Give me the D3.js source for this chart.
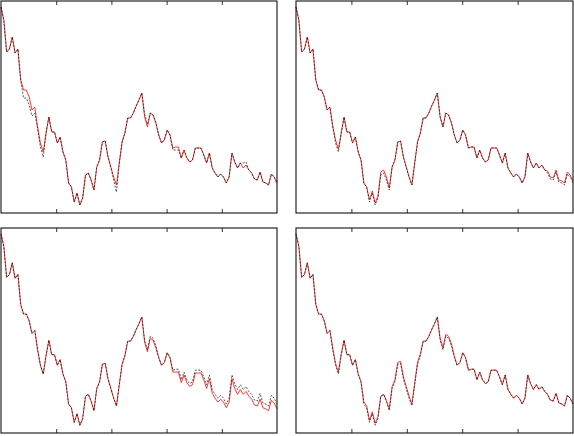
<!DOCTYPE html>
<html>
<head>
<meta charset="utf-8">
<script src="https://cdn.jsdelivr.net/npm/d3@7"></script>
<style>
body { margin: 0; background: #fff; }
svg { display: block; }
</style>
</head>
<body>
<div class="chart"></div>
<script>
// common series (solid red in top-left, dashed black elsewhere)
var base = [206,193,161,164,176,160,164,133,123,123,116,103,106,86,70,61,80,96,81,81,
            70,76,61,53,30,26,11,20,8,15,38,40,33,23,46,53,71,72,56,46,
            36,28,50,71,80,95,95,100,107,113,120,96,86,100,98,90,78,70,73,83,
            78,65,66,66,55,63,55,51,53,65,65,65,58,50,60,45,40,36,39,36,
            30,36,60,51,45,50,45,48,43,40,34,33,41,31,30,28,39,36,30];

// dashed line of the top-left panel
var obsTL = [206,193,161,164,176,160,164,133,115,115,108,97,100,84,66,56,80,96,81,81,
             70,76,61,53,30,26,11,20,8,15,38,40,33,23,46,53,71,72,56,46,
             33,21,50,71,80,95,95,100,107,113,120,99,89,100,98,90,78,70,73,83,
             78,63,63,63,55,63,55,51,53,65,65,65,58,50,60,45,40,36,39,36,
             30,36,60,51,45,50,50,51,43,40,34,33,41,31,30,28,39,36,30];

// red lines of the other panels
var fitB = [206,193,161,164,176,160,164,133,123,123,116,103,106,87,73,64,80,96,81,81,
            70,76,61,53,30,26,13,22,10,17,41,43,36,25,46,53,71,72,56,46,
            36,28,50,71,80,95,95,100,107,113,120,96,86,100,98,90,78,70,73,83,
            78,65,66,66,55,63,55,51,53,65,65,65,58,50,60,45,40,36,39,36,
            30,36,60,51,45,50,45,48,43,42,36,35,43,33,32,30,41,38,32];

var fitC = [206,193,161,164,176,160,164,133,123,123,116,103,106,86,70,61,80,96,81,81,
            70,76,61,53,30,26,11,20,8,15,38,40,33,23,46,53,71,72,56,46,
            36,28,50,71,80,95,95,100,107,113,120,94,84,98,96,88,78,70,73,83,
            78,63,63,63,52,60,52,48,50,62,62,62,55,46,56,41,36,32,35,32,
            26,32,56,46,40,45,40,43,38,35,29,28,35,26,25,23,34,31,25];

var fitD = [206,193,161,164,176,160,164,133,123,123,116,103,106,88,72,63,82,96,81,81,
            70,76,61,53,32,28,13,22,10,17,38,40,33,25,48,55,73,74,58,48,
            38,30,52,73,82,95,95,100,107,113,120,98,88,102,100,92,80,70,73,83,
            78,65,66,66,55,63,55,51,53,65,65,65,58,50,60,45,40,36,39,36,
            30,36,60,51,45,50,45,48,43,40,34,33,41,31,30,28,39,36,30];

var yMax = 212;
var xTickCount = 5;

var panels = [
    {x: 1, y: 1, w: 276, h: 212, dashed: obsTL, solid: base},
    {x: 296, y: 1, w: 277, h: 212, dashed: base, solid: fitB},
    {x: 1, y: 228, w: 276, h: 205, dashed: base, solid: fitC},
    {x: 296, y: 228, w: 277, h: 205, dashed: base, solid: fitD}
];

var svg = d3.select(".chart").append("svg").attr("width", 574).attr("height", 436);

panels.forEach(function(p) {
    var g = svg.append("g").attr("transform", "translate(" + p.x + "," + p.y + ")");
    var x = d3.scaleLinear().domain([0, base.length - 1]).range([0, p.w]);
    var y = d3.scaleLinear().domain([0, yMax]).range([p.h, 0]);
    var tickX = d3.scaleLinear().domain([0, xTickCount]).range([0, p.w]);

    // inward ticks on bottom and top edges
    var bottom = d3.axisTop(tickX).tickValues([1, 2, 3, 4]).tickSize(4).tickFormat("");
    var top = d3.axisBottom(tickX).tickValues([1, 2, 3, 4]).tickSize(4).tickFormat("");
    g.append("g").attr("transform", "translate(0," + p.h + ")").call(bottom);
    g.append("g").call(top);
    g.selectAll(".domain").remove();
    g.selectAll(".tick line").attr("stroke", "#333").attr("stroke-width", 1);

    var line = d3.line().x(function(d, i) { return x(i); }).y(function(d) { return y(d); });
    // red first, dashed black drawn over it
    g.append("path").datum(p.solid).attr("d", line).attr("fill", "none")
        .attr("stroke", "#f22").attr("stroke-width", 0.9);
    g.append("path").datum(p.dashed).attr("d", line).attr("fill", "none")
        .attr("stroke", "#111").attr("stroke-width", 0.7).attr("stroke-dasharray", "2,1.5");

    g.append("rect").attr("x", 0).attr("y", 0).attr("width", p.w).attr("height", p.h)
        .attr("fill", "none").attr("stroke", "#111").attr("stroke-width", 1.1);
});
</script>
</body>
</html>
